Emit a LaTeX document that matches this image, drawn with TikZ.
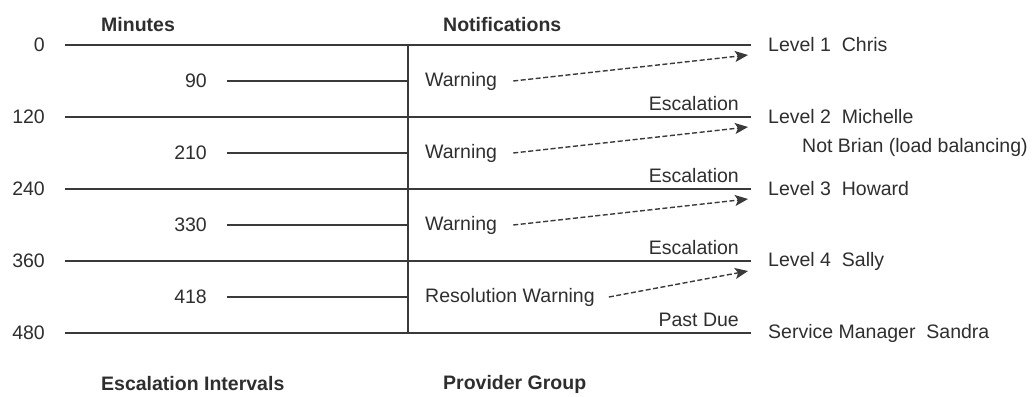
\documentclass[tikz,border=0pt]{standalone}
\usepackage{fontspec}
\setmainfont{Liberation Sans}
\usepackage{xcolor}
\definecolor{inkgray}{HTML}{2E2E2E}
\definecolor{rulegray}{HTML}{3A3A3A}
\usetikzlibrary{arrows.meta,positioning}
\tikzset{
  lbl/.style={font=\fontsize{19.5}{22}\selectfont, text=inkgray, inner sep=0pt},
  hdr/.style={lbl, font=\fontsize{19.5}{22}\selectfont\bfseries},
  rl/.style={draw=rulegray, line width=1.5pt},
  ar/.style={-{Stealth[length=13pt,width=11pt,inset=3pt]}, draw=rulegray,
             line width=1.4pt, dash pattern=on 5pt off 2.5pt},
}

\begin{document}
\begin{tikzpicture}[x=1pt, y=-1pt]
  \useasboundingbox (0,0) rectangle (1032,396);
  % headings
  \node[hdr, anchor=west] (hmin) at (101,25) {Minutes};
  \node[hdr, anchor=west] (hnot) at (443,25) {Notifications};
  \node[hdr, anchor=west] (hint) at (101,384) {Escalation Intervals};
  \node[hdr, anchor=west] (hgrp) at (443,384) {Provider Group};
  % minutes on the left
  \node[lbl, anchor=east] (m0) at (45,45) {0};
  \node[lbl, anchor=east] (m120) at (45,117) {120};
  \node[lbl, anchor=east] (m240) at (45,189) {240};
  \node[lbl, anchor=east] (m360) at (45,261) {360};
  \node[lbl, anchor=east] (m480) at (45,333) {480};
  \node[lbl, anchor=east] (m90) at (207,81) {90};
  \node[lbl, anchor=east] (m210) at (207,153) {210};
  \node[lbl, anchor=east] (m330) at (207,225) {330};
  \node[lbl, anchor=east] (m418) at (207,297) {418};
  % notifications
  \node[lbl, anchor=west] (w1) at (425,81) {Warning};
  \node[lbl, anchor=west] (w2) at (425,153) {Warning};
  \node[lbl, anchor=west] (w3) at (425,225) {Warning};
  \node[lbl, anchor=west] (w4) at (425,297) {Resolution Warning};
  \node[lbl, anchor=east] (e1) at (739,104) {Escalation};
  \node[lbl, anchor=east] (e2) at (739,176) {Escalation};
  \node[lbl, anchor=east] (e3) at (739,248) {Escalation};
  \node[lbl, anchor=east] (pd) at (739,320) {Past Due};
  % provider group
  \node[lbl, anchor=west] (r1) at (768,45) {Level 1\ \ Chris};
  \node[lbl, anchor=west] (r2) at (768,117) {Level 2\ \ Michelle};
  \node[lbl, anchor=west] (nb) at (802,147) {Not Brian (load balancing)};
  \node[lbl, anchor=west] (r3) at (768,189) {Level 3\ \ Howard};
  \node[lbl, anchor=west] (r4) at (768,261) {Level 4\ \ Sally};
  \node[lbl, anchor=west] (sm) at (768,333) {Service Manager\ \ Sandra};
  \coordinate (vtop) at (408,45);
  \coordinate (vbot) at (408,333);
  % interval lines
  \draw[rl] ([xshift=20pt]m0.east) -- ([xshift=-17pt]r1.west);
  \draw[rl] ([xshift=20pt]m120.east) -- ([xshift=-17pt]r2.west);
  \draw[rl] ([xshift=20pt]m240.east) -- ([xshift=-17pt]r3.west);
  \draw[rl] ([xshift=20pt]m360.east) -- ([xshift=-17pt]r4.west);
  \draw[rl] ([xshift=20pt]m480.east) -- ([xshift=-17pt]sm.west);
  \draw[rl] ([xshift=20pt]m90.east) -- ([xshift=-17pt]w1.west);
  \draw[rl] ([xshift=20pt]m210.east) -- ([xshift=-17pt]w2.west);
  \draw[rl] ([xshift=20pt]m330.east) -- ([xshift=-17pt]w3.west);
  \draw[rl] ([xshift=20pt]m418.east) -- ([xshift=-17pt]w4.west);
  \draw[rl] (vtop) -- (vbot);
  % warnings go to the level
  \draw[ar] ([xshift=16pt]w1.east) -- ([xshift=-20pt,yshift=-10pt]r1.west);
  \draw[ar] ([xshift=16pt]w2.east) -- ([xshift=-20pt,yshift=-10pt]r2.west);
  \draw[ar] ([xshift=16pt]w3.east) -- ([xshift=-20pt,yshift=-10pt]r3.west);
  \draw[ar] ([xshift=14pt]w4.east) -- ([xshift=-20pt,yshift=-10pt]r4.west);
\end{tikzpicture}
\end{document}
